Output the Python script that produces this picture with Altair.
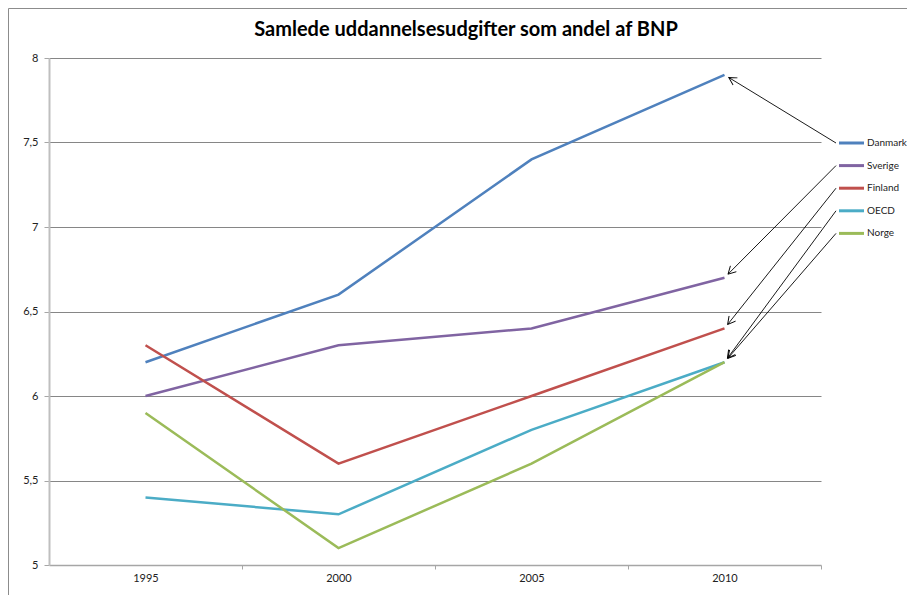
import math
import altair as alt
import pandas as pd

# ---------------- data ----------------
title_text = "Samlede uddannelsesudgifter som andel af BNP"
years = [1995, 2000, 2005, 2010]
countries = ["Danmark", "Sverige", "Finland", "OECD", "Norge"]
danmark = [6.2, 6.6, 7.4, 7.9]
sverige = [6.0, 6.3, 6.4, 6.7]
finland = [6.3, 5.6, 6.0, 6.4]
oecd = [5.4, 5.3, 5.8, 6.2]
norge = [5.9, 5.1, 5.6, 6.2]
colors = ["#4F81BD", "#8064A2", "#C0504D", "#4BACC6", "#9BBB59"]
y_ticks = [5, 5.5, 6, 6.5, 7, 7.5, 8]
x_band_edges = [1997.5, 2002.5, 2007.5, 2012.5]

series = [danmark, sverige, finland, oecd, norge]

# ---------------- layout ----------------
W, H = 772, 507
X_DOM = [1992.5, 2012.5]
Y_DOM = [5, 8]
PX_X = W / (X_DOM[1] - X_DOM[0])
PX_Y = H / (Y_DOM[1] - Y_DOM[0])

LEG_SYM_X0, LEG_SYM_X1, LEG_LABEL_X = 790, 815, 818
LEG_Y0, LEG_DY = 85, 22.6
ARROW_X = 787
GAP = 5


def year_at(px):
    return X_DOM[0] + px / PX_X


def val_at(py):
    return Y_DOM[1] - py / PX_Y


line_df = pd.DataFrame(
    [{"country": c, "year": y, "value": v}
     for c, s in zip(countries, series) for y, v in zip(years, s)]
)

leg_rows, arrow_rows = [], []
for i, (c, s) in enumerate(zip(countries, series)):
    row_py = LEG_Y0 + i * LEG_DY
    leg_rows.append({"country": c, "x1": year_at(LEG_SYM_X0), "x2": year_at(LEG_SYM_X1),
                     "lx": year_at(LEG_LABEL_X), "ly": val_at(row_py)})
    ex = (years[-1] - X_DOM[0]) * PX_X
    ey = (Y_DOM[1] - s[-1]) * PX_Y
    sx, sy = ARROW_X, row_py
    dx, dy = ex - sx, ey - sy
    L = math.hypot(dx, dy)
    tx, ty = ex - dx / L * GAP, ey - dy / L * GAP
    ang = math.degrees(math.atan2(dy, dx)) % 360
    arrow_rows.append({"country": c, "sx": year_at(sx), "sy": val_at(sy),
                       "tx": year_at(tx), "ty": val_at(ty), "ang": ang})
leg_df = pd.DataFrame(leg_rows)
arrow_df = pd.DataFrame(arrow_rows)
one = pd.DataFrame({"a": [0]})

X_SCALE = alt.Scale(domain=X_DOM, nice=False, zero=False)
Y_SCALE = alt.Scale(domain=Y_DOM, nice=False, zero=False)
X_AXIS = alt.Axis(
    values=years + x_band_edges,
    labelExpr="datum.value % 5 == 0 ? format(datum.value, 'd') : ''",
    tickOpacity={"condition": {"test": "datum.value % 5 != 0", "value": 1}, "value": 0},
    tickSize=4, tickColor="#A6A6A6", domainColor="#A6A6A6", domainWidth=1.5,
    grid=False, title=None, labelOverlap=False, labelFlush=False, labelPadding=3,
)
Y_AXIS = alt.Axis(
    values=y_ticks,
    labelExpr="replace(toString(datum.value), '.', ',')",
    tickSize=5, tickColor="#A6A6A6", domainColor="#BFBFBF", domainWidth=2,
    grid=True, gridColor="#868686", gridWidth=1,
    gridOpacity={"condition": {"test": "datum.value == 5", "value": 0}, "value": 1},
    title=None, labelPadding=6, labelFlush=False,
)
COLOR = alt.Color("country:N", scale=alt.Scale(domain=countries, range=colors), legend=None)

lines = alt.Chart(line_df).mark_line(strokeWidth=2.5).encode(
    x=alt.X("year:Q", scale=X_SCALE, axis=X_AXIS),
    y=alt.Y("value:Q", scale=Y_SCALE, axis=Y_AXIS),
    color=COLOR,
)

leg_lines = alt.Chart(leg_df).mark_rule(strokeWidth=3).encode(
    x=alt.X("x1:Q", scale=X_SCALE, axis=X_AXIS),
    x2="x2:Q",
    y=alt.Y("ly:Q", scale=Y_SCALE, axis=Y_AXIS),
    color=COLOR,
)
leg_text = alt.Chart(leg_df).mark_text(
    align="left", baseline="middle", fontSize=10, font="Lato", color="#222222"
).encode(
    x=alt.X("lx:Q", scale=X_SCALE, axis=X_AXIS),
    y=alt.Y("ly:Q", scale=Y_SCALE, axis=Y_AXIS),
    text="country:N",
)

arrows = alt.Chart(arrow_df).mark_rule(strokeWidth=0.9, color="black").encode(
    x=alt.X("sx:Q", scale=X_SCALE, axis=X_AXIS),
    y=alt.Y("sy:Q", scale=Y_SCALE, axis=Y_AXIS),
    x2="tx:Q",
    y2="ty:Q",
)
heads = alt.Chart(arrow_df).mark_point(
    shape="M-1,-0.55L0,0L-1,0.55", filled=False, size=230, strokeWidth=0.9,
    color="black", opacity=1,
).encode(
    x=alt.X("tx:Q", scale=X_SCALE, axis=X_AXIS),
    y=alt.Y("ty:Q", scale=Y_SCALE, axis=Y_AXIS),
    angle=alt.Angle("ang:Q", scale=None),
)

title = alt.Chart(one).mark_text(
    text=title_text, fontSize=20, fontWeight="bold", font="Lato", color="black",
    align="center", baseline="middle",
).encode(x=alt.value(417), y=alt.value(-28))

border = alt.Chart(one).mark_rect(
    fillOpacity=0, stroke="#8C8C8C", strokeWidth=1
).encode(x=alt.value(-40.5), x2=alt.value(W + 200), y=alt.value(-49.5), y2=alt.value(H + 200))

chart = alt.layer(lines, leg_lines, leg_text, arrows, heads, title, border).properties(
    width=W, height=H,
    autosize=alt.AutoSizeParams(type="none"),
    padding={"left": 41, "top": 50, "right": 86, "bottom": 30},
    background="white",
).configure_view(strokeWidth=0).configure_axis(
    labelFont="Lato", labelFontSize=11, labelColor="#222222"
)

chart.save("out.html", embed_options={"renderer": "svg", "actions": False})
